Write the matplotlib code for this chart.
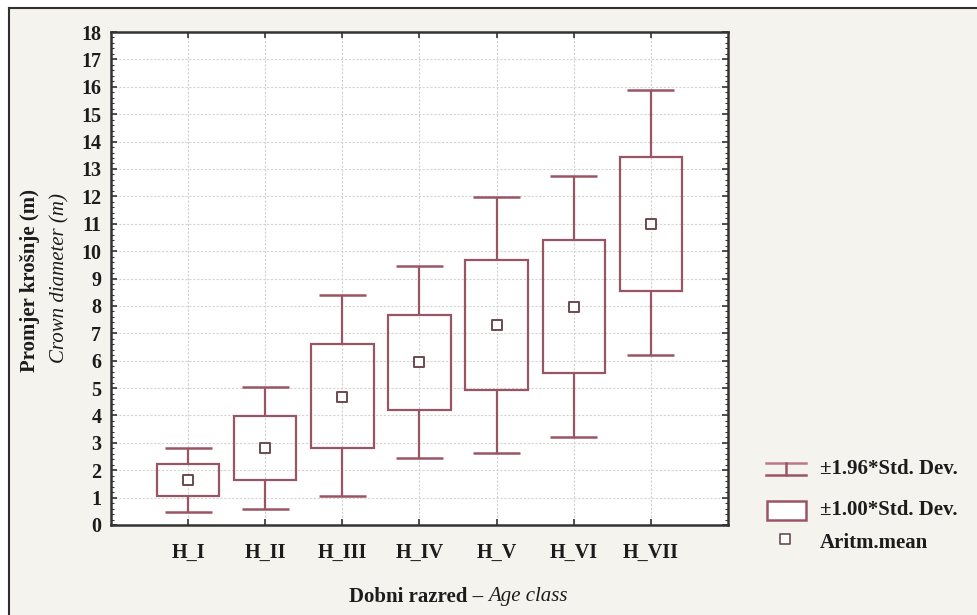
import numpy as np
import matplotlib.pyplot as plt
from matplotlib.patches import Rectangle
from matplotlib.lines import Line2D
from matplotlib.ticker import MultipleLocator

# values (m)
classes = ["H_I", "H_II", "H_III", "H_IV", "H_V", "H_VI", "H_VII"]
mean = [1.64, 2.80, 4.69, 5.94, 7.30, 7.95, 11.00]
box_lo = [1.06, 1.64, 2.82, 4.20, 4.93, 5.54, 8.56]
box_hi = [2.23, 3.97, 6.61, 7.67, 9.68, 10.41, 13.43]
whisk_lo = [0.49, 0.57, 1.06, 2.44, 2.62, 3.20, 6.21]
whisk_hi = [2.82, 5.05, 8.40, 9.44, 11.97, 12.73, 15.87]

legend_labels = ["±1.96*Std. Dev.", "±1.00*Std. Dev.", "Aritm.mean"]

W, H = 978, 615
line_col = "#9a5565"
mean_col = "#6b4a50"
txt_col = "#1c1c1c"
serif = ["Liberation Serif", "DejaVu Serif"]

fig = plt.figure(figsize=(W / 100, H / 100), dpi=100, facecolor="white")

# beige panel with dark frame on left / top
fig.patches.append(Rectangle((9 / W, 0), 1 - 9 / W, 1 - 8 / H, transform=fig.transFigure,
                             facecolor="#f5f3ee", edgecolor="none", zorder=-5))
fig.add_artist(Line2D([9 / W, 9 / W], [0, 1 - 8 / H], color="#303030", lw=1.5, zorder=-4))
fig.add_artist(Line2D([9 / W, 1], [1 - 8 / H, 1 - 8 / H], color="#303030", lw=1.5, zorder=-4))

left, right, top, bottom = 111, 728, 32, 525
ax = fig.add_axes([left / W, 1 - bottom / H, (right - left) / W, (bottom - top) / H])
ax.set_facecolor("white")

x = np.arange(1, len(classes) + 1)

# grid
for xv in x:
    ax.axvline(xv, color="#cfcfcf", lw=0.8, ls=(0, (2, 1.5)), zorder=0)
for yv in range(1, 18):
    ax.axhline(yv, color="#d4d4d4", lw=0.8, ls=(0, (2, 1.5)), zorder=0)

box_w = 0.81
cap_w = 0.61
lo = np.array(box_lo)
hi = np.array(box_hi)
ax.bar(x, hi - lo, bottom=lo, width=box_w, facecolor="none",
       edgecolor=line_col, linewidth=1.6, zorder=3)
ax.vlines(x, whisk_lo, box_lo, color=line_col, lw=1.6, zorder=3)
ax.vlines(x, box_hi, whisk_hi, color=line_col, lw=1.6, zorder=3)
ax.hlines(whisk_lo, x - cap_w / 2, x + cap_w / 2, color=line_col, lw=1.8, zorder=3)
ax.hlines(whisk_hi, x - cap_w / 2, x + cap_w / 2, color=line_col, lw=1.8, zorder=3)
ax.scatter(x, mean, marker="s", s=60, facecolor="white", edgecolor=mean_col,
           linewidth=1.4, zorder=4)

ax.set_xlim(0, 8)
ax.set_ylim(0, 18)
ax.set_xticks(x)
ax.set_xticklabels(classes)
ax.yaxis.set_major_locator(MultipleLocator(1))
ax.yaxis.set_minor_locator(MultipleLocator(0.2))
ax.tick_params(axis="both", which="both", direction="in", top=True, right=True,
               color="#333333")
ax.tick_params(axis="both", which="major", length=4, width=1.2)
ax.tick_params(axis="y", which="minor", length=2.5, width=0.8)
ax.tick_params(axis="y", which="major", pad=7)
ax.tick_params(axis="x", which="major", pad=13)
for lab in ax.get_xticklabels() + ax.get_yticklabels():
    lab.set_fontfamily(serif)
    lab.set_fontweight("bold")
    lab.set_fontsize(14.5)
    lab.set_color(txt_col)
for s in ax.spines.values():
    s.set_color("#333333")
    s.set_linewidth(1.8)

# axis titles
fig.text(30 / W, 1 - 280 / H, "Promjer krošnje (m)", rotation=90, ha="center", va="center",
         family=serif, weight="bold", size=15, color=txt_col)
fig.text(60 / W, 1 - 278 / H, "Crown diameter (m)", rotation=90, ha="center", va="center",
         family=serif, style="italic", size=15, color=txt_col)
fig.text(488 / W, 1 - 597 / H, "Dobni razred – ", ha="right", va="center",
         family=serif, weight="bold", size=15, color=txt_col)
fig.text(488 / W, 1 - 597 / H, "Age class", ha="left", va="center",
         family=serif, style="italic", size=15, color=txt_col)

# legend
lg = fig.add_axes([0, 0, 1, 1], facecolor="none")
lg.set_xlim(0, W)
lg.set_ylim(H, 0)
lg.axis("off")
lg.plot([766, 806], [462.5, 462.5], color="#b77a86", lw=1.8)
lg.plot([766, 806], [475, 475], color=line_col, lw=1.8)
lg.plot([786, 786], [462.5, 475], color=line_col, lw=1.8)
lg.add_patch(Rectangle((767, 501), 39, 19, facecolor="white", edgecolor=line_col, lw=1.8))
lg.scatter([785], [539], marker="s", s=45, facecolor="white", edgecolor=mean_col, linewidth=1.2)
for yy, lab in zip([469, 510, 543], legend_labels):
    lg.text(820, yy, lab, ha="left", va="center", family=serif, weight="bold",
            size=15, color=txt_col)

fig.savefig("out.png", dpi=100, facecolor=fig.get_facecolor())
